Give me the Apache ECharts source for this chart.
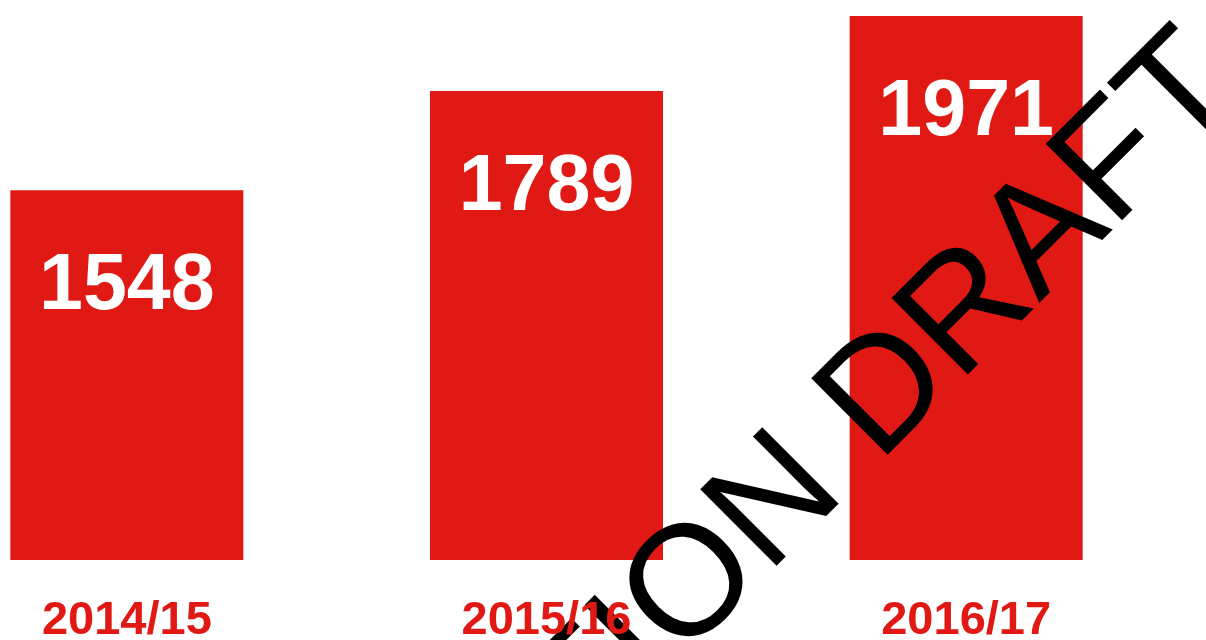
<!DOCTYPE html>
<html>
<head>
<meta charset="utf-8">
<script src="https://cdn.jsdelivr.net/npm/echarts@6/dist/echarts.min.js"></script>
<style>
html, body { margin: 0; padding: 0; background: #fff; }
#chart { width: 1206px; height: 640px; }
</style>
</head>
<body>
<div id="chart"></div>
<script>
var years = ['2014/15', '2015/16', '2016/17'];
var counts = [1548, 1789, 1971];
var watermark = 'CONSULTATION DRAFT';

var red = '#e11914';
var font = '"Liberation Sans", Arial, sans-serif';

var myChart = echarts.init(document.getElementById('chart'));
myChart.setOption({
    animation: false,
    grid: { left: -83, right: 30, top: 4, bottom: 80, containLabel: false, outerBoundsMode: 'none' },
    xAxis: {
        type: 'category',
        data: years,
        z: 200,
        axisLine: { show: false },
        axisTick: { show: false },
        axisLabel: {
            color: red,
            fontFamily: font,
            fontWeight: 'bold',
            fontSize: 47,
            margin: 38
        }
    },
    yAxis: {
        type: 'value',
        min: 650,
        max: 2000,
        show: false,
        splitLine: { show: false }
    },
    series: [{
        type: 'bar',
        data: counts,
        barWidth: 233,
        itemStyle: { color: red },
        label: {
            show: true,
            position: 'insideTop',
            distance: 58,
            color: '#fff',
            fontFamily: font,
            fontWeight: 'bold',
            fontSize: 79
        }
    }],
    graphic: [{
        type: 'text',
        z: 100,
        x: 1218,
        y: 63,
        rotation: Math.PI / 4,
        style: {
            text: watermark,
            fill: '#000',
            font: '157px "Liberation Sans", Arial, sans-serif',
            textAlign: 'right',
            textVerticalAlign: 'middle'
        }
    }]
});
</script>
</body>
</html>
